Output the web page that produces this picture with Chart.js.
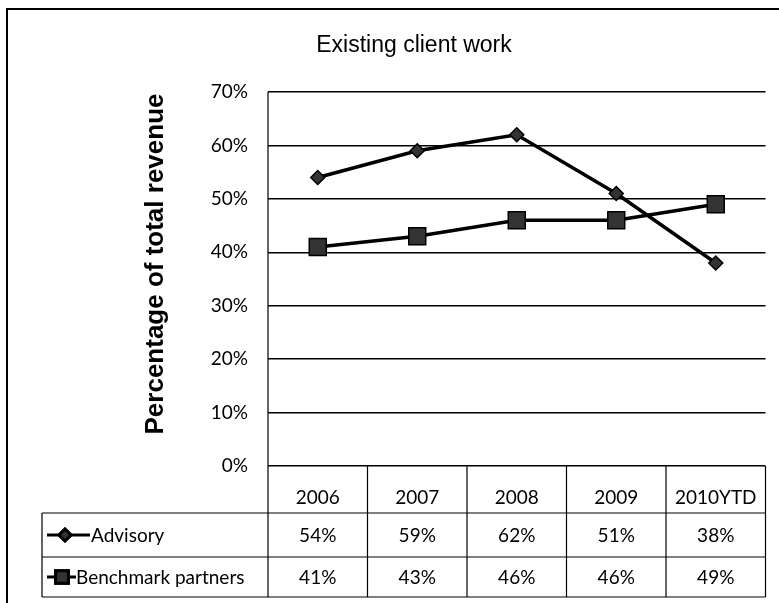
<!DOCTYPE html>
<html>
<head>
<meta charset="utf-8">
<title>Existing client work</title>
<script src="https://cdn.jsdelivr.net/npm/chart.js@4"></script>
<style>
  html, body { margin: 0; padding: 0; background: #fff; }
  #wrap { width: 779px; height: 603px; }
</style>
</head>
<body>
<div id="wrap"><canvas id="chart" width="779" height="603"></canvas></div>
<script>
// values (percent of total revenue)
const years = ['2006', '2007', '2008', '2009', '2010YTD'];
const advisory = [54, 59, 62, 51, 38];
const benchmark = [41, 43, 46, 46, 49];
const yTicks = [0, 10, 20, 30, 40, 50, 60, 70];

const tickFont = { family: 'Lato', size: 19 };

// draws the title, the data table under the plot, the outer frame and the rotated axis title
const tablePlugin = {
  id: 'dataTable',
  afterDraw(chart) {
    const ctx = chart.ctx;
    const area = chart.chartArea;
    const x = chart.scales.x;
    const n = years.length;
    const colW = (area.right - area.left) / n;
    const rowTop = area.bottom;
    const r1 = rowTop + 47;
    const r2 = r1 + 44;
    const r3 = r2 + 40;
    const labelLeft = 42;

    ctx.save();
    ctx.strokeStyle = '#000';

    // outer frame
    ctx.lineWidth = 2;
    ctx.beginPath();
    ctx.moveTo(7, 603);
    ctx.lineTo(7, 9);
    ctx.lineTo(779, 9);
    ctx.stroke();

    // chart title
    ctx.fillStyle = '#000';
    ctx.font = '23px "Liberation Sans", Arial, sans-serif';
    ctx.textAlign = 'center';
    ctx.textBaseline = 'middle';
    ctx.fillText('Existing client work', 414, 46);

    // plot left border + table grid
    ctx.lineWidth = 1.2;
    ctx.beginPath();
    ctx.moveTo(area.left, area.top);
    ctx.lineTo(area.left, r3);
    for (let i = 1; i <= n; i++) {
      const bx = area.left + colW * i;
      ctx.moveTo(bx, rowTop);
      ctx.lineTo(bx, r3);
    }
    [r1, r2, r3].forEach(yy => {
      ctx.moveTo(labelLeft, yy);
      ctx.lineTo(area.right, yy);
    });
    ctx.moveTo(labelLeft, r1);
    ctx.lineTo(labelLeft, r3);
    ctx.stroke();

    // values
    ctx.font = '19px Lato';
    const rows = [[advisory, (r1 + r2) / 2], [benchmark, (r2 + r3) / 2]];
    rows.forEach(([vals, cy]) => {
      vals.forEach((v, i) => {
        ctx.fillText(v + '%', x.getPixelForValue(i), cy + 1);
      });
    });

    // legend keys
    const keys = [
      { label: 'Advisory', cy: (r1 + r2) / 2, x0: 47, x1: 90, mx: 65, tx: 91, ds: 0, r: 6 },
      { label: 'Benchmark partners', cy: (r2 + r3) / 2, x0: 47, x1: 76, mx: 62, tx: 76, ds: 1, r: 9 }
    ];
    keys.forEach(k => {
      const d = chart.data.datasets[k.ds];
      ctx.lineWidth = 3;
      ctx.beginPath();
      ctx.moveTo(k.x0, k.cy);
      ctx.lineTo(k.x1, k.cy);
      ctx.stroke();
      Chart.helpers.drawPoint(ctx, {
        pointStyle: d.pointStyle,
        radius: k.r,
        borderWidth: 1.5,
        rotation: 0
      }, k.mx, k.cy);
      ctx.fillStyle = '#333';
      ctx.fill();
      ctx.stroke();
      ctx.fillStyle = '#000';
      ctx.textAlign = 'left';
      ctx.fillText(k.label, k.tx, k.cy + 1);
    });

    // y axis title
    ctx.translate(156, 264);
    ctx.rotate(-Math.PI / 2);
    ctx.font = 'bold 26px "Liberation Sans", Arial, sans-serif';
    ctx.textAlign = 'center';
    ctx.fillText('Percentage of total revenue', 0, 0);
    ctx.restore();
  }
};

new Chart(document.getElementById('chart'), {
  type: 'line',
  data: {
    labels: years,
    datasets: [
      {
        label: 'Advisory',
        data: advisory,
        borderColor: '#000',
        backgroundColor: '#333',
        borderWidth: 3.5,
        pointStyle: 'rectRot',
        pointRadius: 7,
        pointBorderColor: '#000',
        pointBorderWidth: 1.5,
        tension: 0
      },
      {
        label: 'Benchmark partners',
        data: benchmark,
        borderColor: '#000',
        backgroundColor: '#333',
        borderWidth: 3.5,
        pointStyle: 'rect',
        pointRadius: 12,
        pointBorderColor: '#000',
        pointBorderWidth: 1.5,
        tension: 0
      }
    ]
  },
  options: {
    responsive: false,
    animation: false,
    layout: { padding: { left: 0, right: 12, top: 92, bottom: 6 } },
    plugins: {
      legend: { display: false },
      tooltip: { enabled: false },
      title: { display: false }
    },
    scales: {
      x: {
        offset: true,
        grid: { display: false },
        border: { display: false },
        ticks: { color: '#000', font: tickFont, padding: 12, maxRotation: 0 },
        afterFit(scale) { scale.height = 131; }
      },
      y: {
        min: 0,
        max: 70,
        afterBuildTicks(scale) { scale.ticks = yTicks.map(v => ({ value: v })); },
        grid: { color: '#000', lineWidth: 1.5, drawTicks: false },
        border: { display: false },
        ticks: { color: '#000', font: tickFont, padding: 20, callback: v => v + '%' },
        afterFit(scale) { scale.width = 268; }
      }
    }
  },
  plugins: [tablePlugin]
});
</script>
</body>
</html>
